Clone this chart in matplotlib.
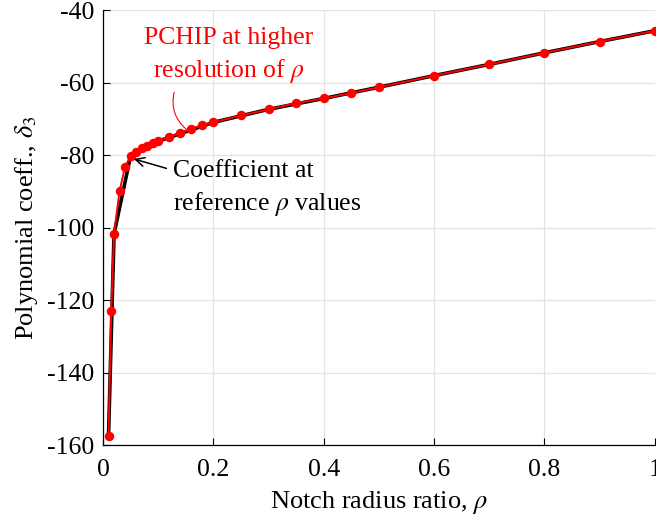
import matplotlib
matplotlib.use("Agg")
import matplotlib.pyplot as plt

plt.rcParams['font.family'] = ['Liberation Serif', 'DejaVu Serif']
plt.rcParams['mathtext.fontset'] = 'stix'

# coefficient at the reference notch radius ratios
rho_ref = [0.01, 0.02, 0.05, 0.1, 0.2, 0.3, 0.4, 0.5, 0.6, 0.7, 0.8, 0.9, 1.0]
delta_ref = [-157.5, -101.7, -80.2, -76.1, -70.9, -67.3, -64.3, -61.2,
             -58.0, -54.9, -51.7, -48.6, -45.6]

# PCHIP evaluated on a finer rho grid
rho_fine = [0.01, 0.015, 0.02, 0.03, 0.04, 0.05, 0.06, 0.07, 0.08, 0.09,
            0.1, 0.12, 0.14, 0.16, 0.18, 0.2, 0.25, 0.3, 0.35, 0.4, 0.45,
            0.5, 0.6, 0.7, 0.8, 0.9, 1.0]
delta_fine = [-157.5, -122.9, -101.7, -89.9, -83.1, -80.2, -79.0, -78.0,
              -77.3, -76.7, -76.1, -74.9, -73.8, -72.7, -71.7, -70.9, -69.0,
              -67.3, -65.6, -64.3, -62.8, -61.2, -58.0, -54.9, -51.7, -48.6,
              -45.6]

xticks = [0, 0.2, 0.4, 0.6, 0.8, 1]
xticklabels = ['0', '0.2', '0.4', '0.6', '0.8', '1']
yticks = [-160, -140, -120, -100, -80, -60, -40]

fig = plt.figure(figsize=(6.56, 5.23), dpi=100)
ax = fig.add_axes([0.157, 0.149, 0.841, 0.831])

ax.plot(rho_ref, delta_ref, color='black', linewidth=2.6, zorder=3)
ax.plot(rho_fine, delta_fine, color='#ff0000', linewidth=1.4,
        marker='o', markersize=5.8, zorder=4)

ax.set_xlim(0, 1)
ax.set_ylim(-160, -40)
ax.set_xticks(xticks)
ax.set_xticklabels(xticklabels)
ax.set_yticks(yticks)
ax.set_yticklabels([str(v) for v in yticks])
ax.tick_params(direction='in', length=5, width=0.8, labelsize=18.5, pad=6)
ax.tick_params(axis='x', pad=10)
ax.grid(True, color='#e3e3e3', linewidth=0.9)
ax.set_axisbelow(True)
for side in ('top', 'right'):
    ax.spines[side].set_visible(False)
for side in ('left', 'bottom'):
    ax.spines[side].set_linewidth(0.9)

ax.set_xlabel(r'Notch radius ratio, $\rho$', fontsize=19, labelpad=6)
ax.set_ylabel(r'Polynomial coeff., $\delta_3$', fontsize=19, labelpad=5)

# red note pointing at the fine curve
ax.text(0.227, -52.6, 'PCHIP at higher\nresolution of $\\rho$',
        color='#ff0000', fontsize=18.5, ha='center', va='center',
        linespacing=1.4, zorder=5)
ax.annotate('', xy=(0.151, -72.8), xytext=(0.129, -62.6),
            arrowprops=dict(arrowstyle='-', color='#ff0000', lw=0.8,
                            shrinkA=0, shrinkB=0,
                            connectionstyle='arc3,rad=0.3'),
            zorder=5)

# black note pointing at the reference curve
ax.annotate('', xy=(0.056, -81.0), xytext=(0.115, -83.6),
            arrowprops=dict(arrowstyle='->', color='black', lw=1.1,
                            shrinkA=0, shrinkB=0, mutation_scale=16),
            zorder=5)
ax.text(0.127, -89.3, 'Coefficient at\nreference $\\rho$ values',
        color='black', fontsize=18.5, ha='left', va='center',
        linespacing=1.4, zorder=5)

fig.savefig('out.png', dpi=100)
